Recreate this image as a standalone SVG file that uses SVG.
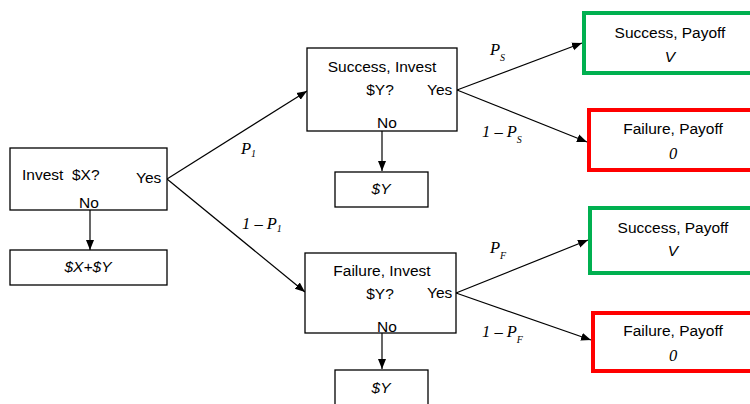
<svg xmlns="http://www.w3.org/2000/svg" width="750" height="404" viewBox="0 0 750 404">
<defs>
<marker id="ah" viewBox="0 0 10 10" refX="10" refY="5" markerWidth="10" markerHeight="10" markerUnits="userSpaceOnUse" orient="auto">
<path d="M0,1 L10,5 L0,9 z" fill="#000"/>
</marker>
</defs>
<style>
.box{fill:#fff;stroke:#000;stroke-width:1.3}
.g{fill:#fff;stroke:#00b050;stroke-width:4}
.r{fill:#fff;stroke:#ff0000;stroke-width:4}
.t{font-family:"Liberation Sans",Arial,sans-serif;font-size:15.5px;fill:#000}
.i{font-style:italic}
.m{font-family:"Liberation Serif","Times New Roman",serif;font-style:italic;font-size:16.5px;fill:#000}
.sub{font-size:10px}
.c{stroke:#000;stroke-width:1.2;fill:none;marker-end:url(#ah)}
</style>
<rect width="750" height="404" fill="#fff"/>
<g id="connectors">
<line class="c" x1="90" y1="210" x2="90" y2="250"/>
<line class="c" x1="382" y1="131" x2="382" y2="171"/>
<line class="c" x1="382" y1="333" x2="382" y2="369"/>
<line class="c" x1="167" y1="179" x2="307" y2="91"/>
<line class="c" x1="167" y1="179" x2="305" y2="292"/>
<line class="c" x1="457" y1="90" x2="582" y2="43"/>
<line class="c" x1="457" y1="90" x2="587" y2="142"/>
<line class="c" x1="456" y1="293" x2="588" y2="240"/>
<line class="c" x1="456" y1="293" x2="591" y2="340"/>
<text class="m" x="241" y="154">P<tspan class="sub" dy="3">1</tspan></text>
<text class="m" x="242" y="229">1 – P<tspan class="sub" dy="3">1</tspan></text>
<text class="m" x="490" y="55">P<tspan class="sub" dy="6">S</tspan></text>
<text class="m" x="482" y="137">1 – P<tspan class="sub" dy="6">S</tspan></text>
<text class="m" x="490" y="253">P<tspan class="sub" dy="6">F</tspan></text>
<text class="m" x="482" y="337">1 – P<tspan class="sub" dy="6">F</tspan></text>
</g>
<g id="invest">
<rect class="box" x="10" y="148" width="157" height="62"/>
<text class="t" x="22" y="180" xml:space="preserve">Invest  $X?</text>
<text class="t" x="136" y="183">Yes</text>
<text class="t" x="79" y="208">No</text>
</g>
<g id="xy">
<rect class="box" x="10" y="250" width="157" height="35"/>
<text class="t i" x="88" y="272" text-anchor="middle">$X+$Y</text>
</g>
<g id="success-invest">
<rect class="box" x="307" y="48" width="150" height="83"/>
<text class="t" x="382" y="72" text-anchor="middle">Success, Invest</text>
<text class="t" x="380" y="95" text-anchor="middle">$Y?</text>
<text class="t" x="427" y="95">Yes</text>
<text class="t" x="377" y="128">No</text>
</g>
<g id="y1">
<rect class="box" x="335" y="172" width="93" height="35"/>
<text class="t i" x="381" y="194" text-anchor="middle">$Y</text>
</g>
<g id="failure-invest">
<rect class="box" x="305" y="253" width="151" height="80"/>
<text class="t" x="382" y="276" text-anchor="middle">Failure, Invest</text>
<text class="t" x="380" y="299" text-anchor="middle">$Y?</text>
<text class="t" x="427" y="298">Yes</text>
<text class="t" x="377" y="332">No</text>
</g>
<g id="y2">
<rect class="box" x="335" y="370" width="93" height="40"/>
<text class="t i" x="381" y="393" text-anchor="middle">$Y</text>
</g>
<g id="s-success">
<rect class="g" x="584" y="13" width="170" height="60"/>
<text class="t" x="670" y="38" text-anchor="middle">Success, Payoff</text>
<text class="t i" x="670" y="62" text-anchor="middle">V</text>
</g>
<g id="s-failure">
<rect class="r" x="589" y="110" width="170" height="60"/>
<text class="t" x="673" y="134" text-anchor="middle">Failure, Payoff</text>
<text class="m" x="673" y="159" text-anchor="middle">0</text>
</g>
<g id="f-success">
<rect class="g" x="590" y="208" width="170" height="65"/>
<text class="t" x="673" y="233" text-anchor="middle">Success, Payoff</text>
<text class="t i" x="673" y="256" text-anchor="middle">V</text>
</g>
<g id="f-failure">
<rect class="r" x="593" y="313" width="170" height="58"/>
<text class="t" x="673" y="336" text-anchor="middle">Failure, Payoff</text>
<text class="m" x="673" y="361" text-anchor="middle">0</text>
</g>
</svg>
